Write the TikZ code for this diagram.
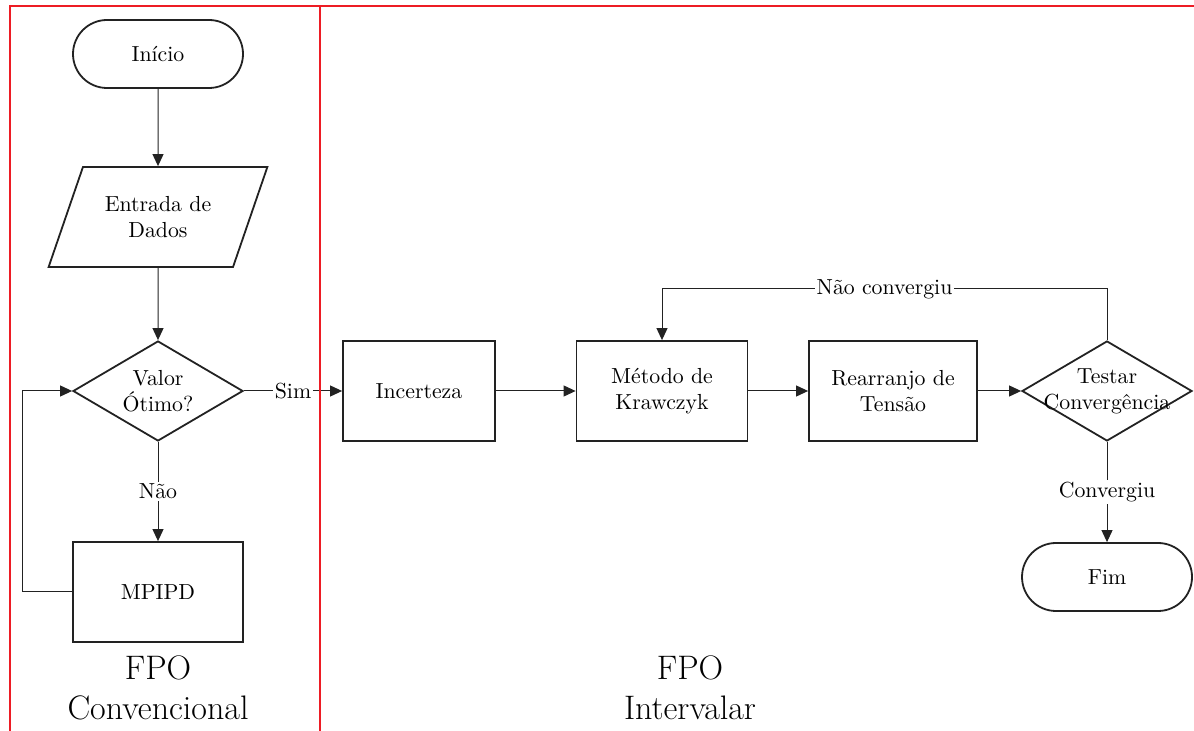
\documentclass[tikz,border=0pt]{standalone}
\usepackage{fontspec}
\usetikzlibrary{shapes.geometric, shapes.misc, arrows.meta}
\definecolor{frame_red}{HTML}{ED1C24}
\definecolor{ink}{HTML}{222222}
\tikzstyle{terminal}=[rounded rectangle,
                      minimum height=34pt,
                      minimum width=85pt,
                      draw=ink,
                      line width=0.9pt,
                      inner sep=0pt]
\tikzstyle{process}=[rectangle,
                     minimum height=50pt,
                     minimum width=85pt,
                     draw=ink,
                     line width=0.9pt,
                     align=center]
\tikzstyle{decision}=[diamond,
                      minimum height=50pt,
                      minimum width=85pt,
                      draw=ink,
                      line width=0.9pt,
                      inner sep=0pt]
\tikzstyle{data_io}=[trapezium,
                     trapezium left angle=63.4,
                     trapezium right angle=116.6,
                     trapezium stretches=true,
                     minimum height=50pt,
                     minimum width=110pt,
                     draw=ink,
                     line width=0.9pt,
                     align=center]
\tikzstyle{flow}=[draw=ink, line width=0.5pt, -{Triangle[length=6pt, width=5.5pt]}]
\tikzstyle{flow_label}=[fill=white, inner sep=1pt]
\tikzstyle{region}=[draw=frame_red, line width=1.4pt]
\tikzstyle{region_label}=[align=center, font=\fontsize{17}{20}\selectfont]

\begin{document}
\begin{tikzpicture}[x=0.5pt, y=-0.5pt, font=\fontsize{10.9}{13}\selectfont]
    \useasboundingbox (0,0) rectangle (1194,731);

    % FPO convencional
    \node at (158, 54) (inicio) [terminal] {Início};
    \node at (158, 217) (entrada) [data_io] {Entrada de\\Dados};
    \node at (158, 391) (valor) [decision, label={[align=center]center:Valor\\Ótimo?}] {};
    \node at (158, 592) (mpipd) [process] {MPIPD};
    \coordinate (loopA) at (22, 592);

    % FPO intervalar
    \node at (419, 391) (incerteza) [process, minimum width=76pt] {Incerteza};
    \node at (662, 391) (krawczyk) [process, minimum width=85.5pt] {Método de\\Krawczyk};
    \node at (893, 391) (rearranjo) [process, minimum width=84pt] {Rearranjo de\\Tensão};
    \node at (1107, 391) (testar) [decision, label={[align=center]center:Testar\\Convergência}] {};
    \node at (1107, 577) (fim) [terminal] {Fim};
    \coordinate (loopB) at (1107, 289);
    \coordinate (loopC) at (662, 289);

    \draw[flow] (inicio.south) -- (entrada.north);
    \draw[flow] (entrada.south) -- (valor.north);
    \draw[flow] (valor.south) -- (mpipd.north) node[midway, flow_label] {Não};
    \draw[flow] (mpipd.west) -- (loopA) |- (valor.west);
    \draw[flow] (valor.east) -- (incerteza.west) node[midway, flow_label] {Sim};
    \draw[flow] (incerteza.east) -- (krawczyk.west);
    \draw[flow] (krawczyk.east) -- (rearranjo.west);
    \draw[flow] (rearranjo.east) -- (testar.west);
    \draw[flow] (testar.north) -- (loopB) -- (loopC) node[midway, flow_label] {Não convergiu} -- (krawczyk.north);
    \draw[flow] (testar.south) -- (fim.north) node[midway, flow_label] {Convergiu};

    % regions
    \draw[region] (10, 731) -- (10, 6) -- (1194, 6);
    \draw[region] (320, 6) -- (320, 731);
    \node at (158, 688) (conv_label) [region_label] {FPO\\Convencional};
    \node at (690, 688) (int_label) [region_label] {FPO\\Intervalar};
\end{tikzpicture}
\end{document}
